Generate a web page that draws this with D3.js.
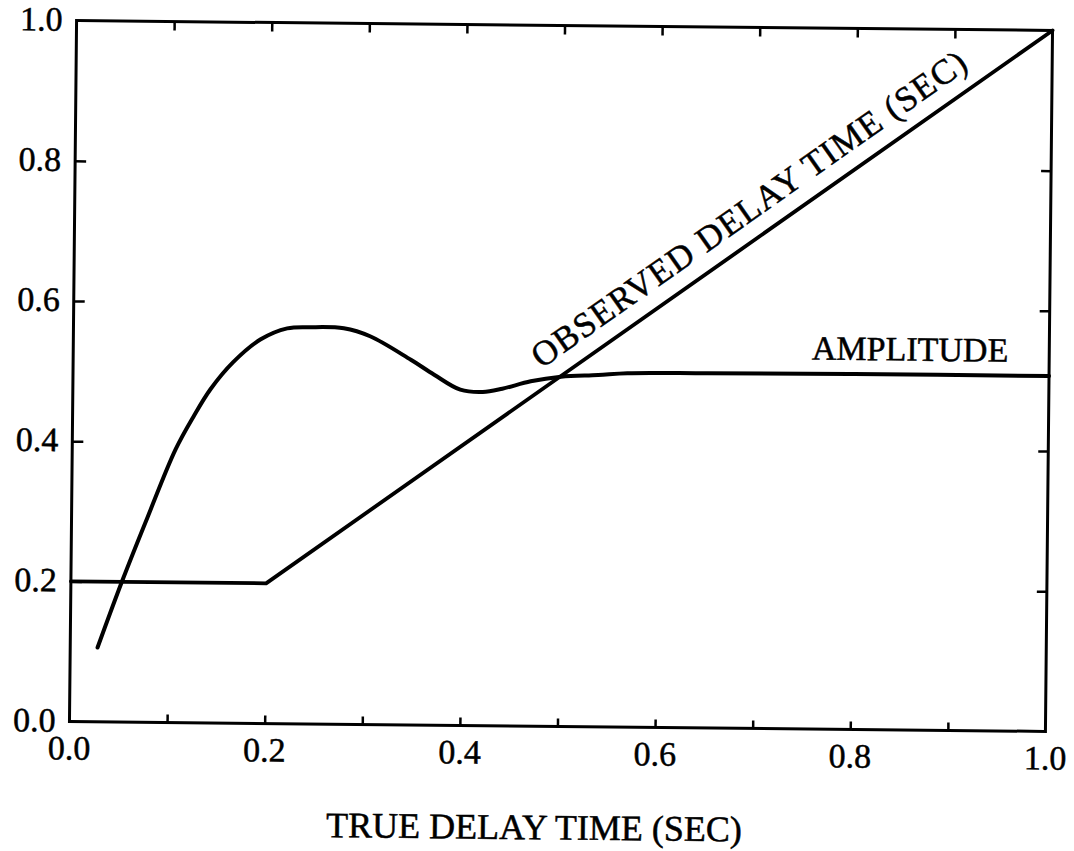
<!DOCTYPE html>
<html>
<head>
<meta charset="utf-8">
<script src="https://cdn.jsdelivr.net/npm/d3@7/dist/d3.min.js"></script>
<style>
  html, body { margin: 0; padding: 0; background: #fff; }
  text { font-family: "Liberation Serif", "Times New Roman", serif; fill: #000; stroke: #000; stroke-width: 0.5px; }
</style>
</head>
<body>
<svg id="chart" width="1074" height="851"></svg>
<script>
// ---- data ----
const xTicks = [0.0, 0.1, 0.2, 0.3, 0.4, 0.5, 0.6, 0.7, 0.8, 0.9, 1.0];
const xTickLabels = ["0.0", "0.2", "0.4", "0.6", "0.8", "1.0"];
const xLabelValues = [0.0, 0.2, 0.4, 0.6, 0.8, 1.0];
const yTicks = [0.0, 0.2, 0.4, 0.6, 0.8, 1.0];
const yTickLabels = ["0.0", "0.2", "0.4", "0.6", "0.8", "1.0"];

const observedX = [0.0, 0.2, 1.0];
const observedY = [0.2, 0.2, 1.0];

const amplitudeX = [0.028, 0.053, 0.078, 0.106, 0.124, 0.141, 0.164, 0.192, 0.219, 0.243, 0.277, 0.304, 0.346, 0.37, 0.397, 0.42, 0.44, 0.469, 0.5, 0.538, 0.568, 0.65, 0.8, 1.0];
const amplitudeY = [0.106, 0.203, 0.293, 0.390, 0.437, 0.476, 0.515, 0.548, 0.564, 0.566, 0.565, 0.554, 0.521, 0.500, 0.479, 0.476, 0.481, 0.492, 0.499, 0.502, 0.505, 0.506, 0.507, 0.507];

const xTitle = "TRUE DELAY TIME (SEC)";
const observedLabel = "OBSERVED DELAY TIME (SEC)";
const amplitudeLabel = "AMPLITUDE";

// ---- layout ----
const margin = { left: 73, top: 25.5 };
const W = 976, H = 701;
const svg = d3.select("#chart");
svg.append("rect").attr("width", 1074).attr("height", 851).attr("fill", "#fff");

const g = svg.append("g")
  .attr("transform", `rotate(0.58, 561, 376) translate(${margin.left},${margin.top})`);

const x = d3.scaleLinear().domain([0, 1]).range([0, W]);
const y = d3.scaleLinear().domain([0, 1]).range([H, 0]);

// frame
g.append("rect").attr("x", 0).attr("y", 0).attr("width", W).attr("height", H)
  .attr("fill", "none").attr("stroke", "#000").attr("stroke-width", 3);

// inward ticks via d3 axes
const innerX = xTicks.filter(d => d > 0 && d < 1);
const innerY = yTicks.filter(d => d > 0 && d < 1);

const bottomAxis = d3.axisTop(x).tickValues(innerX).tickSize(8).tickFormat("");
const topAxis = d3.axisBottom(x).tickValues(innerX).tickSize(9).tickFormat("");
const leftAxis = d3.axisRight(y).tickValues(innerY).tickSize(11).tickFormat("");
const rightAxis = d3.axisLeft(y).tickValues(innerY).tickSize(10).tickFormat("");

function styleAxis(sel) {
  sel.select(".domain").remove();
  sel.selectAll(".tick line").attr("stroke", "#000").attr("stroke-width", 2.5);
}
g.append("g").attr("transform", `translate(0,${H})`).call(bottomAxis).call(styleAxis);
g.append("g").call(topAxis).call(styleAxis);
g.append("g").call(leftAxis).call(styleAxis);
g.append("g").attr("transform", `translate(${W},0)`).call(rightAxis).call(styleAxis);

// tick labels
g.selectAll(".xlab").data(xLabelValues).enter().append("text")
  .attr("x", d => x(d)).attr("y", H + 38)
  .attr("text-anchor", "middle").attr("font-size", 34)
  .text((d, i) => xTickLabels[i]);

g.selectAll(".ylab").data(yTicks).enter().append("text")
  .attr("x", -14).attr("y", d => y(d)).attr("dy", "0.3em")
  .attr("text-anchor", "end").attr("font-size", 34)
  .text((d, i) => yTickLabels[i]);

// axis title
g.append("text").attr("x", W * 0.477).attr("y", H + 113)
  .attr("text-anchor", "middle").attr("font-size", 36)
  .text(xTitle);

// lines
const line = d3.line().x(d => x(d[0])).y(d => y(d[1]));
g.append("path")
  .datum(observedX.map((v, i) => [v, observedY[i]]))
  .attr("d", line)
  .attr("fill", "none").attr("stroke", "#000").attr("stroke-width", 3.8)
  .attr("stroke-linejoin", "round").attr("stroke-linecap", "round");

const curve = d3.line().x(d => x(d[0])).y(d => y(d[1])).curve(d3.curveCatmullRom.alpha(0.5));
g.append("path")
  .datum(amplitudeX.map((v, i) => [v, amplitudeY[i]]))
  .attr("d", curve)
  .attr("fill", "none").attr("stroke", "#000").attr("stroke-width", 4)
  .attr("stroke-linejoin", "round").attr("stroke-linecap", "round");

// rotated label along observed line
const p0 = [x(0.2), y(0.2)], p1 = [x(1), y(1)];
const ang = Math.atan2(p1[1] - p0[1], p1[0] - p0[0]) * 180 / Math.PI;
const sx = x(0.49), sy = y(0.49);
g.append("text")
  .attr("transform", `translate(${sx},${sy}) rotate(${ang}) translate(0,-17)`)
  .attr("font-size", 35).attr("letter-spacing", 1.2)
  .text(observedLabel);

// amplitude label
g.append("text")
  .attr("x", W - 41).attr("y", y(0.507) - 14)
  .attr("text-anchor", "end").attr("font-size", 34)
  .text(amplitudeLabel);
</script>
</body>
</html>
